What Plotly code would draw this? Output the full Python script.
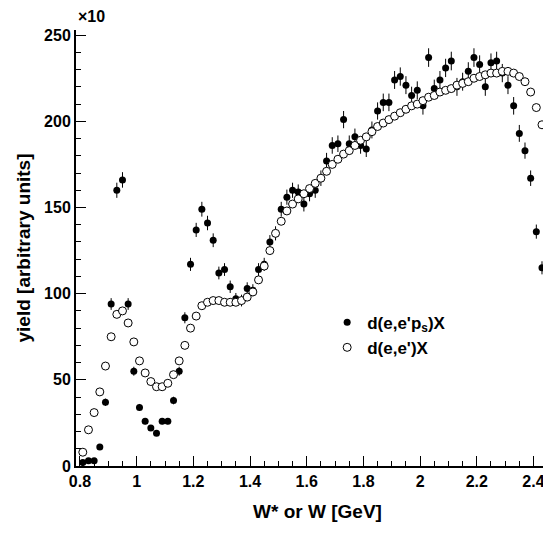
import plotly.graph_objects as go

# d(e,e'p_s)X  (filled)
w_ps = [0.81, 0.83, 0.85, 0.87, 0.89, 0.91, 0.93, 0.95, 0.97, 0.99, 1.01, 1.03, 1.05, 1.07, 1.09, 1.11,
        1.13, 1.15, 1.17, 1.19, 1.21, 1.23, 1.25, 1.27, 1.29, 1.31, 1.33, 1.35, 1.37, 1.39, 1.41, 1.43,
        1.45, 1.47, 1.49, 1.51, 1.53, 1.55, 1.57, 1.59, 1.61, 1.63, 1.65, 1.67, 1.69, 1.71, 1.73, 1.75,
        1.77, 1.79, 1.81, 1.83, 1.85, 1.87, 1.89, 1.91, 1.93, 1.95, 1.97, 1.99, 2.01, 2.03, 2.05, 2.07,
        2.09, 2.11, 2.13, 2.15, 2.17, 2.19, 2.21, 2.23, 2.25, 2.27, 2.29, 2.31, 2.33, 2.35, 2.37, 2.39,
        2.41, 2.43, 2.45, 2.465]
y_ps = [2, 3, 3, 11, 37, 94, 160, 166, 94, 55, 34, 26, 22, 19, 26, 26,
        38, 55, 86, 117, 137, 149, 141, 131, 112, 114, 104, 97, 96, 103, 102, 114,
        117, 130, 135, 149, 156, 160, 159, 152, 158, 160, 167, 177, 186, 187, 201, 187,
        191, 186, 184, 195, 206, 211, 211, 224, 226, 221, 215, 218, 209, 237, 219, 224,
        231, 235, 220, 223, 229, 237, 233, 220, 234, 235, 228, 221, 209, 193, 183, 167,
        136, 115, 75, 31]
err_ps = [round(0.35 * max(v, 4) ** 0.5, 1) for v in y_ps]

# d(e,e')X  (open)
w_e = [0.81, 0.83, 0.85, 0.87, 0.89, 0.91, 0.93, 0.95, 0.97, 0.99, 1.01, 1.03, 1.05, 1.07, 1.09, 1.11,
       1.13, 1.15, 1.17, 1.19, 1.21, 1.23, 1.25, 1.27, 1.29, 1.31, 1.33, 1.35, 1.37, 1.39, 1.41, 1.43,
       1.45, 1.47, 1.49, 1.51, 1.53, 1.55, 1.57, 1.59, 1.61, 1.63, 1.65, 1.67, 1.69, 1.71, 1.73, 1.75,
       1.77, 1.79, 1.81, 1.83, 1.85, 1.87, 1.89, 1.91, 1.93, 1.95, 1.97, 1.99, 2.01, 2.03, 2.05, 2.07,
       2.09, 2.11, 2.13, 2.15, 2.17, 2.19, 2.21, 2.23, 2.25, 2.27, 2.29, 2.31, 2.33, 2.35, 2.37, 2.39,
       2.41, 2.43, 2.45, 2.465]
y_e = [8, 21, 31, 43, 58, 75, 88, 90, 83, 72, 61, 54, 49, 46, 46, 48,
       53, 61, 70, 80, 87, 93, 95, 96, 96, 95, 95, 95, 96, 98, 101, 108,
       116, 125, 135, 142, 148, 152, 155, 158, 161, 164, 167, 171, 175, 178, 181, 183,
       186, 189, 191, 194, 197, 199, 201, 203, 205, 207, 209, 210, 212, 214, 215, 217,
       218, 219, 221, 222, 223, 225, 226, 227, 228, 228, 229, 229, 228, 226, 223, 217,
       208, 198, 180, 82]

fnt = "Liberation Sans"

fig = go.Figure()
fig.add_trace(go.Scatter(x=w_ps, y=y_ps, mode="markers", name="<b>d(e,e'p<sub>s</sub>)X</b>",
                         marker=dict(color="black", size=7),
                         error_y=dict(type="data", array=err_ps, color="black", width=0, thickness=1)))
fig.add_trace(go.Scatter(x=w_e, y=y_e, mode="markers", name="<b>d(e,e')X</b>",
                         marker=dict(color="white", size=8, line=dict(color="black", width=1))))

fig.update_layout(
    width=551, height=541,
    margin=dict(l=68, r=0, t=22, b=83),
    plot_bgcolor="white", paper_bgcolor="white",
    font=dict(family=fnt, size=16, color="black"),
    showlegend=True,
    legend=dict(x=0.52, y=0.37, xanchor="left", yanchor="top", bgcolor="rgba(0,0,0,0)",
                font=dict(family=fnt, size=17, color="black"), tracegroupgap=8),
    xaxis=dict(range=[0.786, 2.49], showline=True, linecolor="black", linewidth=2,
               ticks="inside", ticklen=10, tickcolor="black", dtick=0.2, tick0=0.8,
               minor=dict(ticks="inside", ticklen=5, dtick=0.05, tickcolor="black"),
               showgrid=False, zeroline=False,
               title=dict(text="<b>W* or W [GeV]</b>"),
               tickfont=dict(family=fnt, size=16, color="black")),
    yaxis=dict(range=[0, 253], showline=True, linecolor="black", linewidth=2,
               ticks="inside", ticklen=10, tickcolor="black", dtick=50,
               minor=dict(ticks="inside", ticklen=5, dtick=10, tickcolor="black"),
               showgrid=False, zeroline=False,
               title=dict(text="<b>yield [arbitrary units]</b>", standoff=8),
               tickfont=dict(family=fnt, size=16, color="black")),
)
fig.update_xaxes(tickprefix="<b>", ticksuffix="</b>")
fig.update_yaxes(tickprefix="<b>", ticksuffix="</b>")
fig.add_annotation(text="<b>×10</b>", xref="paper", yref="paper", x=0.0, y=1.0, yshift=3,
                   xanchor="left", yanchor="bottom", showarrow=False,
                   font=dict(family=fnt, size=16, color="black"))

fig.write_html("out.html")
